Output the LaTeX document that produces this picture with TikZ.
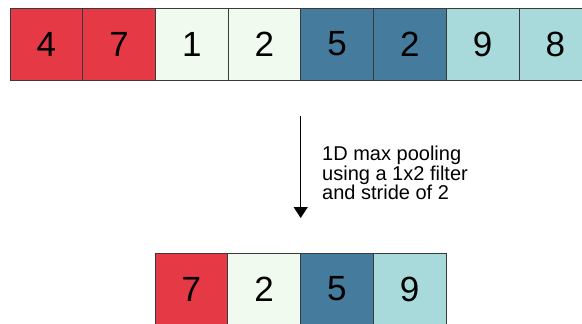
\documentclass[tikz,border=0pt]{standalone}
\usepackage{fontspec}
\setmainfont{Liberation Sans}
\usepackage{tikz}
\usetikzlibrary{arrows.meta,positioning}
\usepackage{xcolor}
\definecolor{poolred}{HTML}{E63946}
\definecolor{poolwhite}{HTML}{F1FAEE}
\definecolor{poolsky}{HTML}{A8DADC}
\definecolor{poolsteel}{HTML}{457B9D}
\definecolor{cellline}{HTML}{3A3A3A}

\tikzset{
  cell/.style={draw=cellline, line width=0.8pt, minimum width=72.7pt, minimum height=72pt,
    inner sep=0pt, font=\fontsize{35}{35}\selectfont},
  poolarrow/.style={line width=1.3pt, -{Triangle[width=14pt,length=11pt]}}
}

\begin{document}
\begin{tikzpicture}[x=1pt,y=-1pt]
    \useasboundingbox (0,0) rectangle (582,324);
    \clip (0,0) rectangle (582,324);
    % input row
    \foreach \val/\col [count=\i] in {4/poolred,7/poolred,1/poolwhite,2/poolwhite,5/poolsteel,2/poolsteel,9/poolsky,8/poolsky}
      \node[cell, fill=\col] (top\i) at ({10+72.7*(\i-0.5)},44) {\val};
    % pooled row
    \foreach \val/\col [count=\i] in {7/poolred,2/poolwhite,5/poolsteel,9/poolsky}
      \node[cell, fill=\col] (pool\i) at ({155+72.75*(\i-0.5)},289) {\val};
    \coordinate (arrowtop) at (300.7,116);
    \coordinate (arrowtip) at (300.7,218);
    \draw[poolarrow] (arrowtop) -- (arrowtip);
    \node[anchor=north west, align=left, inner sep=0pt, font=\fontsize{20}{19.5}\selectfont]
      (caption) at (322,146) {1D max pooling\\using a 1x2 filter\\and stride of 2};
  \end{tikzpicture}
\end{document}
